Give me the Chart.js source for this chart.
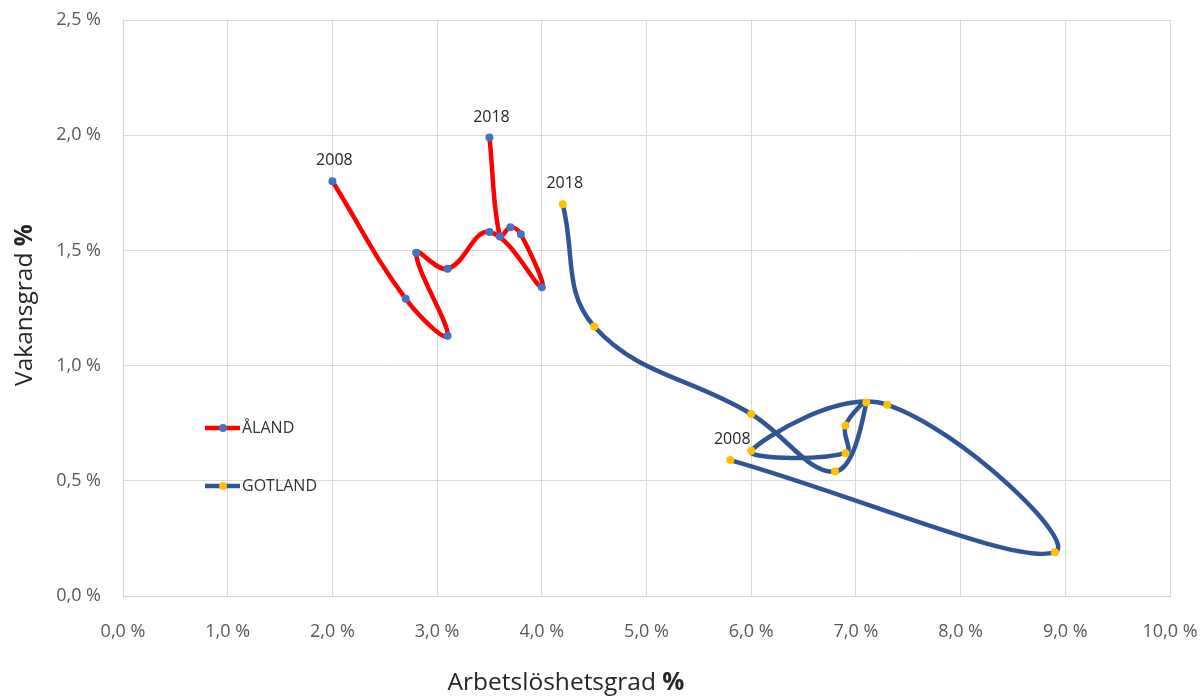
<!DOCTYPE html>
<html>
<head>
<meta charset="utf-8">
<script src="https://cdn.jsdelivr.net/npm/chart.js@4"></script>
<style>
  html, body { margin: 0; padding: 0; background: #ffffff; }
  canvas { display: block; }
</style>
</head>
<body>
<canvas id="chart" width="1204" height="697"></canvas>
<script>
// Years covered by both series (first and last are labelled on the chart)
const years = [2008, 2009, 2010, 2011, 2012, 2013, 2014, 2015, 2016, 2017, 2018];

// Åland: unemployment rate (x) and vacancy rate (y), in percent
const alandUnemployment = [2.0, 2.7, 3.1, 2.8, 3.1, 3.5, 4.0, 3.8, 3.7, 3.6, 3.5];
const alandVacancy      = [1.80, 1.29, 1.13, 1.49, 1.42, 1.58, 1.34, 1.57, 1.60, 1.56, 1.99];

// Gotland: unemployment rate (x) and vacancy rate (y), in percent
const gotlandUnemployment = [5.8, 8.9, 7.3, 6.0, 6.9, 6.9, 7.1, 6.8, 6.0, 4.5, 4.2];
const gotlandVacancy      = [0.59, 0.19, 0.83, 0.63, 0.62, 0.74, 0.84, 0.54, 0.79, 1.17, 1.70];

// Axis tick labels
const xTickLabels = ['0,0 %', '1,0 %', '2,0 %', '3,0 %', '4,0 %', '5,0 %', '6,0 %', '7,0 %', '8,0 %', '9,0 %', '10,0 %'];
const yTickLabels = ['0,0 %', '0,5 %', '1,0 %', '1,5 %', '2,0 %', '2,5 %'];

const seriesNames = ['ÅLAND', 'GOTLAND'];

const FONT = "'Open Sans', 'Liberation Sans', sans-serif";
const RED = '#FF0000', BLUE_DOT = '#4472C4', NAVY = '#2F5597', GOLD = '#FFC000';

function toPoints(xs, ys) {
  return xs.map((x, i) => ({ x: x, y: ys[i], year: years[i] }));
}

// Year labels above the first and last point of each series
const yearLabels = {
  id: 'yearLabels',
  afterDatasetsDraw(chart) {
    const ctx = chart.ctx;
    ctx.save();
    ctx.font = '16px ' + FONT;
    ctx.fillStyle = '#262626';
    ctx.textAlign = 'center';
    ctx.textBaseline = 'alphabetic';
    chart.data.datasets.forEach((ds, di) => {
      const meta = chart.getDatasetMeta(di);
      [0, ds.data.length - 1].forEach(idx => {
        const el = meta.data[idx];
        ctx.fillText(String(ds.data[idx].year), el.x + 2, el.y - 16);
      });
    });
    ctx.restore();
  }
};

// Legend drawn inside the plot area, lower left
const insideLegend = {
  id: 'insideLegend',
  afterDraw(chart) {
    const ctx = chart.ctx;
    const a = chart.chartArea;
    const x0 = a.left + 82;
    const rows = [a.top + 408, a.top + 466];
    ctx.save();
    chart.data.datasets.forEach((ds, i) => {
      const y = rows[i];
      ctx.strokeStyle = ds.borderColor;
      ctx.lineWidth = 4.5;
      ctx.lineCap = 'butt';
      ctx.beginPath();
      ctx.moveTo(x0, y);
      ctx.lineTo(x0 + 35, y);
      ctx.stroke();
      ctx.fillStyle = ds.pointBackgroundColor;
      ctx.beginPath();
      ctx.arc(x0 + 18, y, 4, 0, Math.PI * 2);
      ctx.fill();
      ctx.fillStyle = '#333333';
      ctx.font = '16px ' + FONT;
      ctx.textAlign = 'left';
      ctx.textBaseline = 'middle';
      ctx.fillText(seriesNames[i], x0 + 37, y);
    });
    ctx.restore();
  }
};

// Axis titles, with the "%" set in bold
const axisTitles = {
  id: 'axisTitles',
  afterDraw(chart) {
    const ctx = chart.ctx;
    ctx.save();
    ctx.fillStyle = '#262626';
    ctx.textBaseline = 'alphabetic';
    const size = 24.5;
    const drawTitle = (text, cx, cy) => {
      ctx.font = size + 'px ' + FONT;
      const w1 = ctx.measureText(text + ' ').width;
      ctx.font = 'bold ' + size + 'px ' + FONT;
      const w2 = ctx.measureText('%').width;
      let x = cx - (w1 + w2) / 2;
      ctx.textAlign = 'left';
      ctx.font = size + 'px ' + FONT;
      ctx.fillText(text + ' ', x, cy);
      ctx.font = 'bold ' + size + 'px ' + FONT;
      ctx.fillText('%', x + w1, cy);
    };
    drawTitle('Arbetslöshetsgrad', 566, 690);
    ctx.translate(32, 305);
    ctx.rotate(-Math.PI / 2);
    drawTitle('Vakansgrad', 0, 0);
    ctx.restore();
  }
};

new Chart(document.getElementById('chart'), {
  type: 'scatter',
  data: {
    datasets: [
      {
        label: seriesNames[0],
        data: toPoints(alandUnemployment, alandVacancy),
        showLine: true,
        borderColor: RED,
        borderWidth: 4.5,
        tension: 0.4,
        pointRadius: 4,
        pointBorderWidth: 0,
        pointBackgroundColor: BLUE_DOT,
        pointBorderColor: BLUE_DOT
      },
      {
        label: seriesNames[1],
        data: toPoints(gotlandUnemployment, gotlandVacancy),
        showLine: true,
        borderColor: NAVY,
        borderWidth: 4.5,
        tension: 0.4,
        pointRadius: 4,
        pointBorderWidth: 0,
        pointBackgroundColor: GOLD,
        pointBorderColor: GOLD
      }
    ]
  },
  options: {
    responsive: false,
    animation: false,
    events: [],
    layout: { padding: { top: 20, right: 34, left: 0, bottom: 0 } },
    plugins: {
      legend: { display: false },
      tooltip: { enabled: false }
    },
    scales: {
      x: {
        type: 'linear',
        min: 0,
        max: 10,
        afterFit: s => { s.height = 101; s.paddingLeft = 0; s.paddingRight = 0; },
        grid: { color: '#D9D9D9', lineWidth: 1, drawTicks: false },
        border: { color: '#D0D0D0', width: 1 },
        ticks: {
          stepSize: 1,
          padding: 25,
          color: '#595959',
          font: { family: FONT, size: 18 },
          callback: (v, i) => xTickLabels[i]
        }
      },
      y: {
        type: 'linear',
        min: 0,
        max: 2.5,
        afterFit: s => { s.width = 123; s.paddingTop = 0; s.paddingBottom = 0; },
        grid: { color: '#D9D9D9', lineWidth: 1, drawTicks: false },
        border: { color: '#D0D0D0', width: 1 },
        ticks: {
          stepSize: 0.5,
          padding: 22,
          color: '#595959',
          font: { family: FONT, size: 18 },
          callback: (v, i) => yTickLabels[i]
        }
      }
    }
  },
  plugins: [yearLabels, insideLegend, axisTitles]
});
</script>
</body>
</html>
